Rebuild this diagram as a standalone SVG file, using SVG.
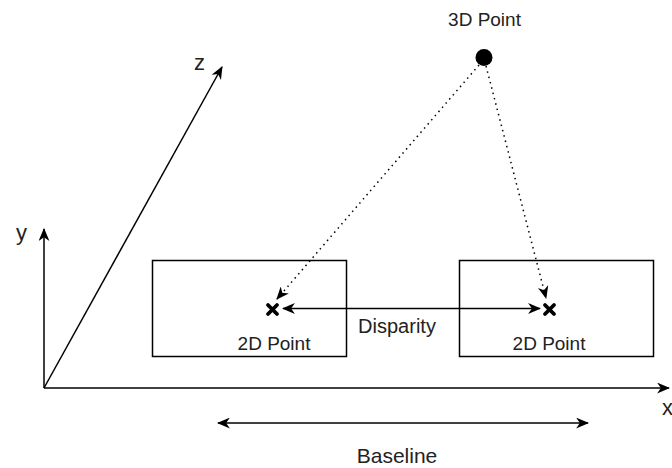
<svg xmlns="http://www.w3.org/2000/svg" width="672" height="468" viewBox="0 0 672 468">
  <style>
    .line { stroke: #000; stroke-width: 1.5; fill: none; }
    .dot { stroke: #000; stroke-width: 1.5; fill: none; stroke-dasharray: 1.5 4; }
    .box { stroke: #000; stroke-width: 1.5; fill: #fff; }
    .cross { stroke: #000; stroke-width: 3.8; stroke-linecap: round; }
    text { font-family: "Liberation Sans", Arial, sans-serif; fill: #222; }
    .lbl { font-size: 19px; text-anchor: middle; }
    .axis { font-size: 22px; }
  </style>
  <defs>
    <marker id="arr" viewBox="0 0 12 10" refX="11" refY="5" markerWidth="13" markerHeight="11" markerUnits="userSpaceOnUse" orient="auto-start-reverse">
      <path d="M0,0 L12,5 L0,10 L3.5,5 Z" fill="#000"/>
    </marker>
  </defs>

  <!-- image planes -->
  <g id="left-plane">
    <rect class="box" x="152.5" y="260.5" width="194" height="96"/>
    <text class="lbl" x="274" y="350">2D Point</text>
  </g>
  <g id="right-plane">
    <rect class="box" x="459.5" y="260.5" width="194" height="96"/>
    <text class="lbl" x="549" y="350">2D Point</text>
  </g>

  <!-- 3D point -->
  <g id="point-3d">
    <circle cx="484" cy="57.5" r="8.5" fill="#000"/>
    <text class="lbl" x="484.5" y="26">3D Point</text>
  </g>

  <!-- projected points -->
  <g id="left-proj">
    <path class="cross" d="M268,305 L277,314 M277,305 L268,314"/>
  </g>
  <g id="right-proj">
    <path class="cross" d="M545,305 L554,314 M554,305 L545,314"/>
  </g>

  <g id="connectors">
    <!-- coordinate axes -->
    <line class="line" x1="44" y1="388" x2="44" y2="229" marker-end="url(#arr)"/>
    <line class="line" x1="44" y1="388" x2="222" y2="67" marker-end="url(#arr)"/>
    <line class="line" x1="44" y1="388" x2="669" y2="388" marker-end="url(#arr)"/>
    <!-- projection rays -->
    <line class="dot" x1="479" y1="65" x2="277" y2="299" marker-end="url(#arr)"/>
    <line class="dot" x1="486" y1="66" x2="546" y2="298" marker-end="url(#arr)"/>
    <!-- disparity -->
    <line class="line" x1="283" y1="308.5" x2="540" y2="308.5" marker-start="url(#arr)" marker-end="url(#arr)"/>
    <!-- baseline -->
    <line class="line" x1="218" y1="423" x2="588" y2="423" marker-start="url(#arr)" marker-end="url(#arr)"/>
  </g>

  <!-- labels -->
  <g id="labels">
    <text class="lbl" x="397" y="333" style="font-size:20px">Disparity</text>
    <text class="lbl" x="397" y="463" style="font-size:21px">Baseline</text>
    <text class="axis" x="16" y="240">y</text>
    <text class="axis" x="194" y="70">z</text>
    <text class="axis" x="662" y="415">x</text>
  </g>
</svg>
